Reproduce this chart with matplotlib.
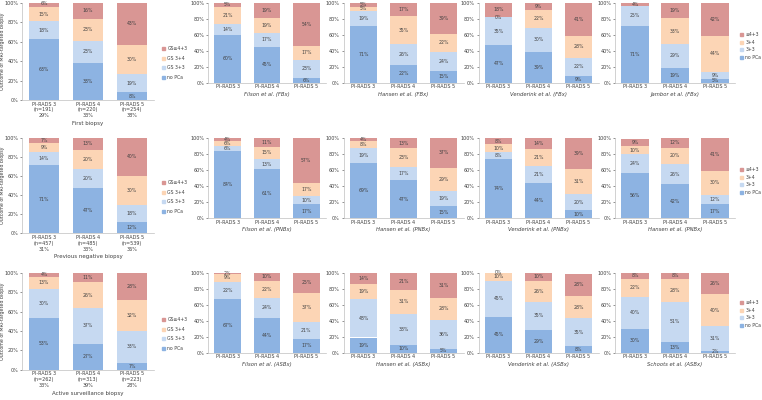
import matplotlib.pyplot as plt
from matplotlib.patches import Patch

# stacked values per panel: [no PCa, GS 3+3, GS 3+4, GS>=4+3], each over PI-RADS 3/4/5
first_pooled = [[63, 38, 8], [18, 23, 19], [15, 23, 30], [6, 16, 43]]
first_filson = [[60, 45, 6], [14, 17, 23], [21, 19, 17], [5, 19, 54]]
first_hansen = [[71, 22, 15], [19, 26, 24], [5, 35, 22], [5, 17, 39]]
first_venderink = [[47, 39, 9], [35, 30, 22], [0, 22, 28], [18, 9, 41]]
first_jambor = [[71, 19, 5], [25, 29, 9], [0, 33, 44], [4, 19, 42]]

prevneg_pooled = [[71, 47, 12], [14, 20, 18], [9, 20, 30], [7, 13, 40]]
prevneg_filson = [[84, 61, 17], [6, 13, 10], [6, 15, 17], [4, 11, 57]]
prevneg_hansen = [[69, 47, 15], [19, 17, 19], [8, 23, 29], [4, 13, 37]]
prevneg_venderink = [[74, 44, 10], [8, 21, 20], [10, 21, 31], [8, 14, 39]]
prevneg_hansen2 = [[56, 42, 17], [24, 26, 12], [10, 20, 30], [9, 12, 41]]

as_pooled = [[53, 27, 7], [30, 37, 33], [13, 26, 32], [4, 11, 28]]
as_filson = [[67, 44, 17], [22, 24, 21], [9, 22, 37], [2, 10, 25]]
as_hansen = [[19, 10, 5], [48, 38, 36], [19, 31, 28], [14, 21, 31]]
as_venderink = [[45, 29, 8], [45, 35, 35], [10, 26, 28], [0, 10, 28]]
as_schoots = [[30, 13, 2], [40, 51, 31], [22, 28, 40], [8, 8, 26]]

pirads = ["PI-RADS 3", "PI-RADS 4", "PI-RADS 5"]
first_n = ["(n=191)\n29%", "(n=220)\n33%", "(n=254)\n38%"]
prevneg_n = ["(n=457)\n31%", "(n=485)\n33%", "(n=539)\n36%"]
as_n = ["(n=262)\n33%", "(n=313)\n39%", "(n=223)\n28%"]

colors = ["#8db3e2", "#c6d9f1", "#fcd5b5", "#d99694"]
big_legend = ["no PCa", "GS 3+3", "GS 3+4", "GS\u22654+3"]
small_legend = ["no PCa", "3+3", "3+4", "\u22654+3"]

W, H = 762, 400
fig = plt.figure(figsize=(W / 100, H / 100), dpi=100)
txt = "#404040"


def add_ax(x0, x1, ytop, ybot):
    return fig.add_axes([x0 / W, 1 - ybot / H, (x1 - x0) / W, (ybot - ytop) / H])


def draw(ax, data, xlabels, title=None, big=False, show_zero=True):
    x = range(3)
    bottom = [0, 0, 0]
    for vals, c in zip(data, colors):
        ax.bar(x, vals, bottom=bottom, color=c, width=0.68)
        for i in x:
            if vals[i] == 0 and not show_zero:
                continue
            ax.text(i, bottom[i] + vals[i] / 2, f"{vals[i]}%", ha="center",
                    va="center", fontsize=3.3, color=txt)
        bottom = [b + v for b, v in zip(bottom, vals)]
    ax.set_xlim(-0.5, 2.5)
    ax.set_ylim(0, 100)
    ax.set_yticks(range(0, 101, 20))
    ax.set_yticklabels([f"{v}%" for v in range(0, 101, 20)])
    ax.set_xticks(list(x))
    ax.set_xticklabels(xlabels)
    ax.tick_params(axis="both", labelsize=3.5, colors=txt, length=1.5, width=0.4,
                   pad=1.2)
    ax.tick_params(axis="x", length=0)
    for s in ["top", "right"]:
        ax.spines[s].set_visible(False)
    for s in ["left", "bottom"]:
        ax.spines[s].set_color("#bfbfbf")
        ax.spines[s].set_linewidth(0.5)
    if title:
        ax.set_xlabel(title, fontsize=4 if big else 3.8, color=txt,
                      style="normal" if big else "italic", labelpad=2)


def legend(labels, x, y, spacing):
    handles = [Patch(color=c, label=l) for c, l in zip(colors, labels)][::-1]
    fig.legend(handles=handles, loc="upper left", bbox_to_anchor=(x / W, 1 - y / H),
               frameon=False, fontsize=3.3, handlelength=0.6, handleheight=0.6,
               labelspacing=spacing, handletextpad=0.5, borderpad=0,
               labelcolor=txt)


rows = [
    (3, 100, 2.7, 82.7, first_pooled, first_n, "First biopsy",
     [first_filson, first_hansen, first_venderink, first_jambor],
     ["Filson et al. (FBx)", "Hansen et al. (FBx)", "Venderink et al. (FBx)",
      "Jambor et al. (FBx)"], 44, 30),
    (137.7, 233.3, 138, 218, prevneg_pooled, prevneg_n, "Previous negative biopsy",
     [prevneg_filson, prevneg_hansen, prevneg_venderink, prevneg_hansen2],
     ["Filson et al. (PNBx)", "Hansen et al. (PNBx)", "Venderink et al. (PNBx)",
      "Hansen et al. (PNBx)"], 178, 165),
    (272.7, 369.7, 272.7, 352.7, as_pooled, as_n, "Active surveillance biopsy",
     [as_filson, as_hansen, as_venderink, as_schoots],
     ["Filson et al. (ASBx)", "Hansen et al. (ASBx)", "Venderink et al. (ASBx)",
      "Schoots et al. (ASBx)"], 315, 298),
]

small_x = [(208, 326), (343.5, 463.5), (478.5, 598.5), (615, 735)]

for (bt, bb, st, sb, pooled, ns, name, studies, titles, ly_big, ly_small) in rows:
    ax = add_ax(22, 154, bt, bb)
    draw(ax, pooled, [f"{p}\n{n}" for p, n in zip(pirads, ns)], name, big=True)
    ax.set_ylabel("Outcome of MRI-targeted biopsy", fontsize=3.4, color=txt)
    ax.yaxis.set_label_coords(-0.125, 0.5)
    legend(big_legend, 160, ly_big, 1.0)
    for (x0, x1), d, t in zip(small_x, studies, titles):
        a = add_ax(x0, x1, st, sb)
        draw(a, d, pirads, t, show_zero=not t.startswith("Jambor"))
    legend(small_legend, 738, ly_small, 0.55)

fig.savefig("out.png", dpi=100)
